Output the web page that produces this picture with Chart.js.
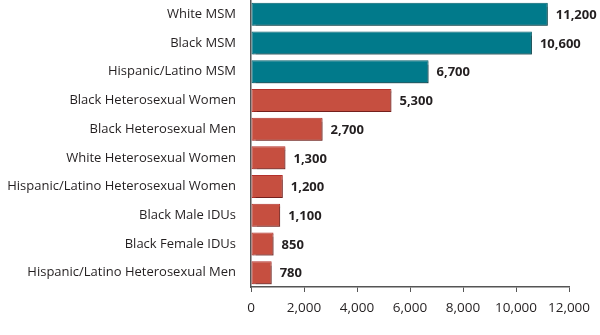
<!DOCTYPE html>
<html>
<head>
<meta charset="utf-8">
<script src="https://cdn.jsdelivr.net/npm/chart.js@4"></script>
<style>
  html, body { margin: 0; padding: 0; background: #fff; }
  #wrap { width: 600px; height: 335px; }
</style>
</head>
<body>
<div id="wrap"><canvas id="myChart" width="600" height="335"></canvas></div>
<script>
const groups = [
    'White MSM',
    'Black MSM',
    'Hispanic/Latino MSM',
    'Black Heterosexual Women',
    'Black Heterosexual Men',
    'White Heterosexual Women',
    'Hispanic/Latino Heterosexual Women',
    'Black Male IDUs',
    'Black Female IDUs',
    'Hispanic/Latino Heterosexual Men'
];
const infections = [11200, 10600, 6700, 5300, 2700, 1300, 1200, 1100, 850, 780];
const isMSM = [true, true, true, false, false, false, false, false, false, false];
const xTicks = [0, 2000, 4000, 6000, 8000, 10000, 12000];

const TEAL = '#017a8b';
const TEAL_EDGE = '#00606c';
const RED = '#c64f40';
const RED_EDGE = '#b3302b';

// soft gray drop shadow behind the bars
const barShadow = {
    id: 'barShadow',
    beforeDatasetsDraw(chart) {
        const ctx = chart.ctx;
        ctx.save();
        ctx.shadowColor = 'rgba(0,0,0,0.35)';
        ctx.shadowOffsetX = 1.5;
        ctx.shadowOffsetY = 1.5;
        ctx.shadowBlur = 1;
    },
    afterDatasetsDraw(chart) {
        chart.ctx.restore();
    }
};

// value label to the right of each bar
const valueLabels = {
    id: 'valueLabels',
    afterDraw(chart) {
        const ctx = chart.ctx;
        const meta = chart.getDatasetMeta(0);
        ctx.save();
        ctx.font = 'bold 13px "Open Sans", sans-serif';
        ctx.fillStyle = '#231f20';
        ctx.textAlign = 'left';
        ctx.textBaseline = 'middle';
        meta.data.forEach((bar, i) => {
            ctx.fillText(infections[i].toLocaleString('en-US'), bar.x + 8, bar.y + 1);
        });
        ctx.restore();
    }
};

function makeChart() {
    const ctx = document.getElementById('myChart');
    new Chart(ctx, {
        type: 'bar',
        data: {
            labels: groups,
            datasets: [{
                data: infections,
                backgroundColor: isMSM.map(m => m ? TEAL : RED),
                borderColor: isMSM.map(m => m ? TEAL_EDGE : RED_EDGE),
                borderWidth: 1,
                borderSkipped: false,
                barPercentage: 0.8,
                categoryPercentage: 1.0
            }]
        },
        options: {
            indexAxis: 'y',
            responsive: false,
            animation: false,
            layout: { padding: { top: 0, right: 31, left: 0, bottom: 0 } },
            plugins: {
                legend: { display: false },
                tooltip: { enabled: false }
            },
            scales: {
                x: {
                    min: 0,
                    max: 12000,
                    afterBuildTicks(axis) {
                        axis.ticks = xTicks.map(v => ({ value: v }));
                    },
                    afterFit(axis) {
                        axis.height = 48;
                        axis.paddingLeft = 0;
                        axis.paddingRight = 0;
                    },
                    grid: {
                        display: true,
                        drawOnChartArea: false,
                        drawTicks: true,
                        tickLength: 5,
                        color: '#555'
                    },
                    border: { display: true, color: '#555', width: 1.5 },
                    ticks: {
                        color: '#231f20',
                        font: { family: '"Open Sans", sans-serif', size: 13.5 },
                        padding: 8,
                        maxRotation: 0,
                        callback: v => v.toLocaleString('en-US')
                    }
                },
                y: {
                    afterFit(axis) {
                        axis.width = 251;
                        axis.paddingTop = 0;
                        axis.paddingBottom = 0;
                    },
                    grid: { display: false, drawTicks: false },
                    border: { display: true, color: '#555', width: 1.5 },
                    ticks: {
                        color: '#231f20',
                        font: { family: '"Open Sans", sans-serif', size: 13 },
                        padding: 15
                    }
                }
            }
        },
        plugins: [barShadow, valueLabels]
    });
}

makeChart();
</script>
</body>
</html>
